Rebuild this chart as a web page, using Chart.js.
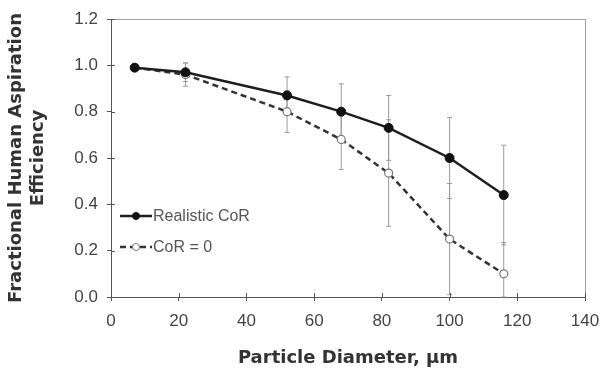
<!DOCTYPE html>
<html>
<head>
<meta charset="utf-8">
<script src="https://cdn.jsdelivr.net/npm/chart.js@4/dist/chart.umd.min.js"></script>
<style>
  html, body { margin: 0; padding: 0; background: #fff; }
  #wrap { width: 600px; height: 369px; position: relative; }
</style>
</head>
<body>
<div id="wrap"><canvas id="aspChart"></canvas></div>
<script>
const diameters = [7, 22, 52, 68, 82, 100, 116];
const realisticCoR = [0.99, 0.97, 0.87, 0.80, 0.73, 0.60, 0.44];
const realisticErr = [0.0, 0.04, 0.08, 0.12, 0.14, 0.175, 0.215];
const zeroCoR = [0.99, 0.96, 0.80, 0.68, 0.535, 0.25, 0.10];
const zeroErr = [0.0, 0.05, 0.09, 0.13, 0.23, 0.24, 0.135];
const seriesNames = ['Realistic CoR', 'CoR = 0'];
const xTicks = [0, 20, 40, 60, 80, 100, 120, 140];
const yTicks = [0, 0.2, 0.4, 0.6, 0.8, 1.0, 1.2];

const toPoints = (ys, errs) => diameters.map((x, i) => ({ x: x, y: ys[i], err: errs[i] }));

// error bars drawn behind the lines
const errorBars = {
    id: 'errorBars',
    beforeDatasetsDraw(chart) {
        const ctx = chart.ctx;
        const xs = chart.scales.x, ys = chart.scales.y;
        ctx.save();
        ctx.strokeStyle = '#9a9a9a';
        ctx.lineWidth = 1;
        chart.data.datasets.forEach(ds => {
            ds.data.forEach(p => {
                if (!p.err) return;
                const px = xs.getPixelForValue(p.x);
                const top = ys.getPixelForValue(Math.min(1.2, p.y + p.err));
                const bot = ys.getPixelForValue(Math.max(0, p.y - p.err));
                ctx.beginPath();
                ctx.moveTo(px, top); ctx.lineTo(px, bot);
                ctx.moveTo(px - 2.5, top); ctx.lineTo(px + 2.5, top);
                ctx.moveTo(px - 2.5, bot); ctx.lineTo(px + 2.5, bot);
                ctx.stroke();
            });
        });
        ctx.restore();
    }
};

// frame, crossing tick marks and in-plot legend
const frameAndLegend = {
    id: 'frameAndLegend',
    afterDraw(chart) {
        const ctx = chart.ctx;
        const a = chart.chartArea;
        const xs = chart.scales.x, ys = chart.scales.y;
        ctx.save();
        ctx.strokeStyle = '#a0a0a0';
        ctx.lineWidth = 1;
        ctx.beginPath();
        ctx.moveTo(a.left, a.top + 0.5); ctx.lineTo(a.right + 0.5, a.top + 0.5);
        ctx.lineTo(a.right + 0.5, a.bottom);
        ctx.stroke();

        ctx.strokeStyle = '#555';
        ctx.beginPath();
        xTicks.forEach(v => {
            const px = Math.round(xs.getPixelForValue(v)) + 0.5;
            ctx.moveTo(px, a.bottom - 4); ctx.lineTo(px, a.bottom);
        });
        yTicks.forEach(v => {
            const py = Math.round(ys.getPixelForValue(v)) + 0.5;
            ctx.moveTo(a.left, py); ctx.lineTo(a.left + 4, py);
        });
        ctx.stroke();

        // legend
        const lx = a.left + 9, rows = [216, 247];
        chart.data.datasets.forEach((ds, i) => {
            const y = rows[i];
            ctx.strokeStyle = ds.borderColor;
            ctx.lineWidth = 2.5;
            ctx.setLineDash(ds.borderDash || []);
            ctx.beginPath();
            ctx.moveTo(lx, y); ctx.lineTo(lx + 32, y);
            ctx.stroke();
            ctx.setLineDash([]);
            ctx.beginPath();
            ctx.arc(lx + 16, y, 3.5, 0, Math.PI * 2);
            ctx.fillStyle = ds.pointBackgroundColor;
            ctx.fill();
            ctx.lineWidth = 1;
            ctx.strokeStyle = ds.pointBorderColor;
            ctx.stroke();
            ctx.fillStyle = '#555';
            ctx.font = '16px Arial, "Liberation Sans", sans-serif';
            ctx.textBaseline = 'middle';
            ctx.fillText(seriesNames[i], lx + 33, y + 1);
        });
        ctx.restore();
    }
};

new Chart(document.getElementById('aspChart'), {
    type: 'scatter',
    data: {
        datasets: [
            {
                label: seriesNames[0],
                data: toPoints(realisticCoR, realisticErr),
                showLine: true,
                borderColor: '#1e1e1e',
                borderWidth: 2.5,
                pointRadius: 4.5,
                pointBackgroundColor: '#111',
                pointBorderColor: '#111',
                pointBorderWidth: 1
            },
            {
                label: seriesNames[1],
                data: toPoints(zeroCoR, zeroErr),
                showLine: true,
                borderColor: '#333',
                borderWidth: 2.5,
                borderDash: [6, 4],
                pointRadius: 4,
                pointBackgroundColor: '#fff',
                pointBorderColor: '#777',
                pointBorderWidth: 1.2
            }
        ]
    },
    options: {
        responsive: true,
        maintainAspectRatio: false,
        animation: false,
        layout: { padding: { top: 19, right: 15, left: 0, bottom: 0 } },
        plugins: {
            legend: { display: false },
            tooltip: { enabled: false }
        },
        scales: {
            x: {
                type: 'linear',
                min: 0,
                max: 140,
                afterBuildTicks: s => { s.ticks = xTicks.map(v => ({ value: v })); },
                ticks: {
                    color: '#444',
                    font: { size: 17, family: 'Arial, "Liberation Sans", sans-serif' },
                    padding: 10,
                    maxRotation: 0
                },
                grid: { drawOnChartArea: false, tickLength: 4, color: '#555' },
                border: { color: '#555', width: 1 },
                title: {
                    display: true,
                    text: 'Particle Diameter, \u00b5m',
                    color: '#333',
                    font: { size: 18, weight: 'bold', family: '"DejaVu Sans", sans-serif' },
                    padding: { top: 0, bottom: 0 }
                },
                afterFit: s => {
                    s.height = 72;
                    s.paddingLeft = 0;
                    s.paddingRight = 0;
                }
            },
            y: {
                min: 0,
                max: 1.2,
                afterBuildTicks: s => { s.ticks = yTicks.map(v => ({ value: v })); },
                ticks: {
                    color: '#444',
                    font: { size: 17, family: 'Arial, "Liberation Sans", sans-serif' },
                    padding: 9,
                    callback: v => v.toFixed(1)
                },
                grid: { drawOnChartArea: false, tickLength: 4, color: '#555' },
                border: { color: '#555', width: 1 },
                title: {
                    display: true,
                    text: ['Fractional Human Aspiration', 'Efficiency'],
                    color: '#333',
                    font: { size: 18, weight: 'bold', family: '"DejaVu Sans", sans-serif' },
                    padding: { top: 6, bottom: 0 }
                },
                afterFit: s => {
                    s.width = 111;
                    s.paddingTop = 0;
                    s.paddingBottom = 0;
                }
            }
        }
    },
    plugins: [errorBars, frameAndLegend]
});
</script>
</body>
</html>
